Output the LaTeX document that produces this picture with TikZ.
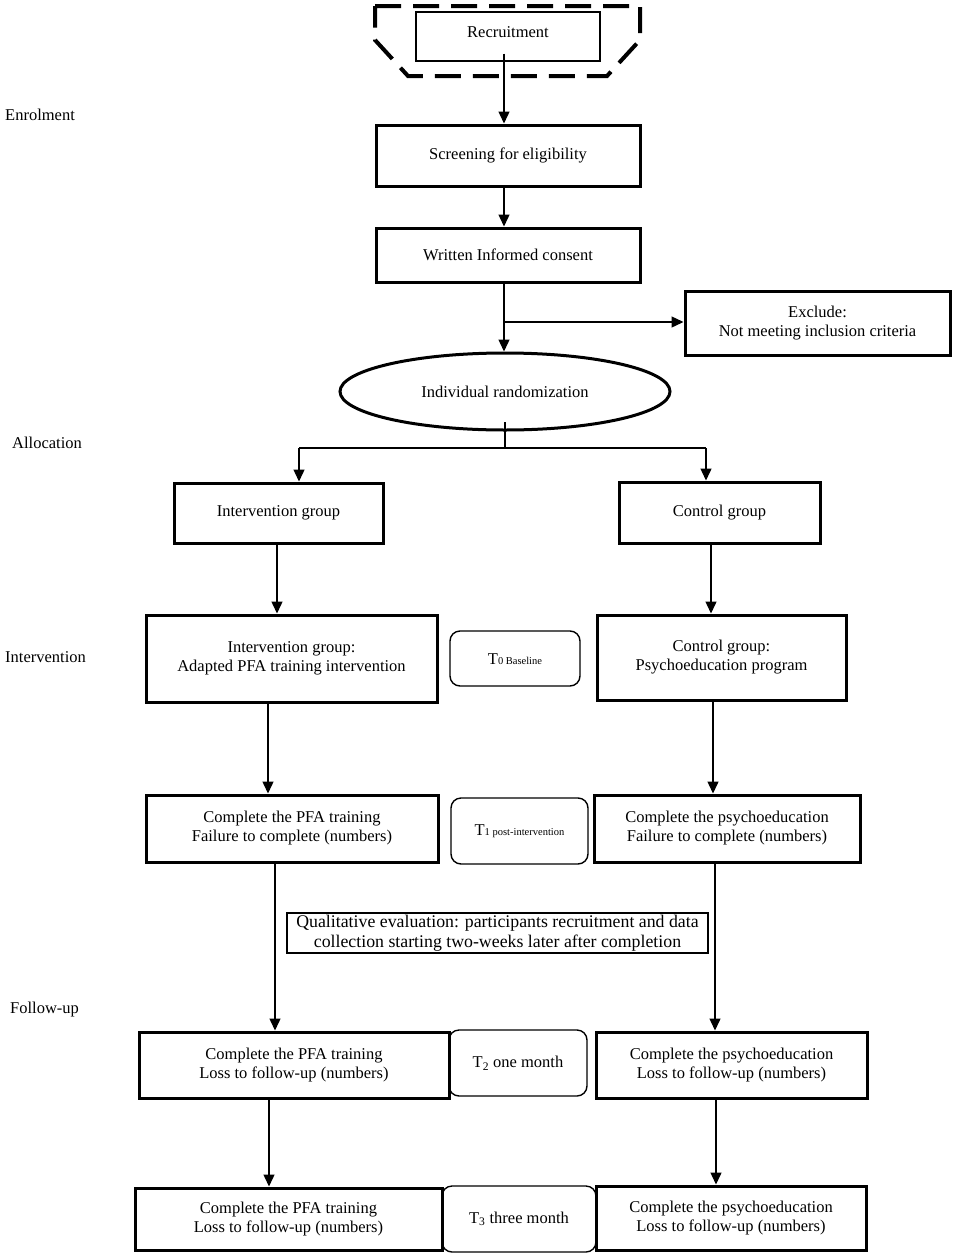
\documentclass[tikz,border=0pt]{standalone}
\usepackage{fontspec}
\setmainfont{Liberation Serif}
\usetikzlibrary{arrows.meta,shapes.geometric,calc}
\begin{document}
\begin{tikzpicture}[x=1pt,y=-1pt,
  font=\fontsize{16.5}{19}\selectfont,
  thickbox/.style={draw, line width=3pt, align=center, inner sep=0pt},
  thinbox/.style={draw, line width=1.1pt, align=center, inner sep=0pt},
  tbox/.style={draw, line width=1.4pt, rounded corners=10pt, align=center, inner sep=0pt},
  conn/.style={line width=1.4pt, -{Triangle[length=12pt,width=11pt]}},
  plain/.style={line width=1.4pt},
  sidelab/.style={anchor=west, inner sep=0pt}]
\useasboundingbox (0,0) rectangle (957,1258);
\newcommand\smallsub[1]{{\fontsize{10.5}{12}\selectfont #1}}

% recruitment dashed outline
\draw[line width=4pt, dash pattern=on 26pt off 12pt]
  (375,6) -- (640,6) -- (640,40) -- (607,76) -- (408,76) -- (375,40) -- cycle;
\node[thinbox, minimum width=184pt, minimum height=49pt] (rec) at (508,36.5) {\raisebox{8pt}{Recruitment}};

\node[thickbox, minimum width=264pt, minimum height=61pt] (screen) at (508,155.5) {Screening for eligibility};
\node[thickbox, minimum width=264pt, minimum height=54pt] (consent) at (508,255) {Written Informed consent};
\node[thickbox, minimum width=265pt, minimum height=64pt] (excl) at (817.5,323) {Exclude:\\Not meeting inclusion criteria};
\node[draw, ellipse, line width=3pt, inner sep=0pt, minimum width=330pt, minimum height=77pt] (rand) at (505,391.5) {Individual randomization};

\node[thickbox, minimum width=209pt, minimum height=60pt] (ig) at (278.5,513) {Intervention group};
\node[thickbox, minimum width=201pt, minimum height=61pt] (cg) at (719.5,512.5) {Control group};

\node[thickbox, minimum width=291pt, minimum height=87pt] (ig1) at (291.5,658.5) {Intervention group:\\Adapted PFA training intervention};
\node[tbox, minimum width=130pt, minimum height=55pt] (t0) at (515,658.5) {\raisebox{-12pt}{T\smallsub{0 Baseline}}};
\node[thickbox, minimum width=249pt, minimum height=85pt] (cg1) at (721.5,657.5) {Control group:\\Psychoeducation program};

\node[thickbox, minimum width=292pt, minimum height=67pt] (ig2) at (292,828.5) {Complete the PFA training\\Failure to complete (numbers)};
\node[tbox, minimum width=137pt, minimum height=66pt] (t1) at (519.5,831) {\raisebox{-3pt}{T\smallsub{1 post-intervention}}};
\node[thickbox, minimum width=266pt, minimum height=67pt] (cg2) at (727,828.5) {Complete the psychoeducation\\Failure to complete (numbers)};

\node[thinbox, minimum width=421pt, minimum height=40pt, font=\fontsize{17.8}{20}\selectfont] (qual) at (497.5,933) {Qualitative evaluation: participants recruitment and data\\collection starting two-weeks later after completion};

\node[thickbox, minimum width=310pt, minimum height=66pt] (ig3) at (294,1065) {Complete the PFA training\\Loss to follow-up (numbers)};
\node[tbox, minimum width=138pt, minimum height=66pt] (t2) at (518,1063) {T\textsubscript{2} one month};
\node[thickbox, minimum width=271pt, minimum height=66pt] (cg3) at (731.5,1065) {Complete the psychoeducation\\Loss to follow-up (numbers)};

\node[thickbox, minimum width=307pt, minimum height=62pt] (ig4) at (288.5,1219) {Complete the PFA training\\Loss to follow-up (numbers)};
\node[tbox, minimum width=154pt, minimum height=66pt] (t3) at (519,1219) {T\textsubscript{3} three month};
\node[thickbox, minimum width=270pt, minimum height=64pt] (cg4) at (731,1218) {Complete the psychoeducation\\Loss to follow-up (numbers)};

% side labels
\node[sidelab] (lenrol) at (5,115) {Enrolment};
\node[sidelab] (lalloc) at (12,443) {Allocation};
\node[sidelab] (linterv) at (5,657) {Intervention};
\node[sidelab] (lfollow) at (10,1010) {Follow-up};

% connectors
\draw[conn] ([yshift=8pt,xshift=-4pt]rec.south) -- ([xshift=-4pt]screen.north);
\draw[conn] ([xshift=-4pt]screen.south) -- ([xshift=-4pt]consent.north);
\coordinate (br) at (504,322);
\draw[conn] ([xshift=-4pt]consent.south) -- (rand.north -| br);
\draw[conn] (br) -- (br -| excl.west);

\coordinate (tick) at (505,422);
\coordinate (split) at (505,448);
\coordinate (sl) at (299,448);
\coordinate (sr) at (706,448);
\draw[plain] (tick) -- (split);
\draw[plain] (sl) -- (sr);
\draw[conn] (sl) -- (sl |- ig.north);
\draw[conn] (sr) -- (sr |- cg.north);

\draw[conn] ([xshift=-1.5pt]ig.south) -- ([xshift=-1.5pt]ig.south |- ig1.north);
\draw[conn] ([xshift=-8.5pt]cg.south) -- ([xshift=-8.5pt]cg.south |- cg1.north);
\draw[conn] ([xshift=-23.5pt]ig1.south) -- ([xshift=-23.5pt]ig1.south |- ig2.north);
\draw[conn] ([xshift=-8.5pt]cg1.south) -- ([xshift=-8.5pt]cg1.south |- cg2.north);
\draw[conn] ([xshift=-17pt]ig2.south) -- ([xshift=-17pt]ig2.south |- ig3.north);
\draw[conn] ([xshift=-12pt]cg2.south) -- ([xshift=-12pt]cg2.south |- cg3.north);
\draw[conn] ([xshift=-25pt]ig3.south) -- ([xshift=-25pt]ig3.south |- ig4.north);
\draw[conn] ([xshift=-15.5pt]cg3.south) -- ([xshift=-15.5pt]cg3.south |- cg4.north);
\end{tikzpicture}
\end{document}
